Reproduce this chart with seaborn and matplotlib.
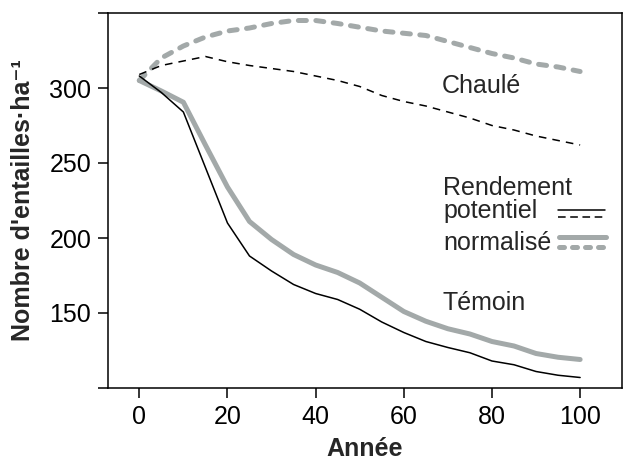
import matplotlib
matplotlib.use("Agg")
import matplotlib.pyplot as plt
import seaborn as sns
import pandas as pd
from matplotlib.lines import Line2D

years = [0, 5, 10, 15, 20, 25, 30, 35, 40, 45, 50, 55, 60, 65, 70, 75, 80, 85, 90, 95, 100]
temoin = [308, 297, 284, 247, 210, 188, 178, 169, 163, 159, 152.5, 144, 137, 131, 127, 123.5, 118, 115.5, 111, 108.5, 107]
temoin_norm = [305, 298, 290.5, 262, 234, 211, 199, 189, 182, 177, 170, 160.5, 151, 144.5, 139.5, 136, 131, 128, 123, 120.5, 119]
chaule = [309, 315, 318, 321, 317.5, 315, 313, 311, 308, 305, 301, 295, 291, 288, 284, 280, 275, 272, 268, 265, 262]
chaule_norm = [305, 320, 328, 334, 338, 340, 343, 345, 345, 343, 340.5, 338, 336.5, 335, 331, 327, 323, 320, 316, 314, 311]

xticks = [0, 20, 40, 60, 80, 100]
yticks = [100, 150, 200, 250, 300, 350]
ytick_labels = ["", "150", "200", "250", "300", ""]

sns.set_theme(style="ticks")
plt.rcParams['font.family'] = ['Liberation Sans', 'DejaVu Sans']

GREY = '#a3a9a9'
GREY_DASH = (0, (1.6, 1.9))
BLACK_DASH = (0, (5, 4))

fig = plt.figure(figsize=(6.24, 4.62), dpi=100)
ax = fig.add_axes([108/624, 1-388/462, (622-108)/624, (388-13)/462])

df = pd.DataFrame({"year": years, "temoin": temoin, "temoin_norm": temoin_norm,
                   "chaule": chaule, "chaule_norm": chaule_norm})

sns.lineplot(data=df, x="year", y="chaule_norm", ax=ax, color=GREY, lw=3.6,
             linestyle=GREY_DASH, dash_capstyle='round')
sns.lineplot(data=df, x="year", y="temoin_norm", ax=ax, color=GREY, lw=3.6,
             solid_capstyle='round')
sns.lineplot(data=df, x="year", y="chaule", ax=ax, color='black', lw=1.1,
             linestyle=BLACK_DASH)
sns.lineplot(data=df, x="year", y="temoin", ax=ax, color='black', lw=1.1)

ax.set_xlim(-7.1, 109.5)
ax.set_ylim(100, 350)
ax.set_xticks(xticks)
ax.set_yticks(yticks)
ax.set_yticklabels(ytick_labels)
for s in ax.spines.values():
    s.set_linewidth(1.1)
    s.set_color('black')
ax.tick_params(axis='both', length=7, width=1.1, direction='out', labelsize=18, pad=5,
               color='black', labelcolor='black')
ax.set_xlabel("Année", fontsize=18, fontweight='bold', labelpad=6)
ax.set_ylabel("Nombre d'entailles·ha⁻¹", fontsize=18, fontweight='bold', labelpad=10)

fs = 18
ax.text(68.5, 296.7, "Chaulé", fontsize=fs, va='baseline', ha='left')
ax.text(68.7, 151.9, "Témoin", fontsize=fs, va='baseline', ha='left')
ax.text(68.9, 213.4, "Rendement\npotentiel", fontsize=fs, va='baseline', ha='left',
        linespacing=0.92)
ax.text(68.9, 192, "normalisé", fontsize=fs, va='baseline', ha='left')

# legend keys
ax.add_line(Line2D([95, 105.6], [218.8, 218.8], color='black', lw=1.1))
ax.add_line(Line2D([95, 105.6], [214, 214], color='black', lw=1.1, linestyle=(0, (5, 3))))
ax.add_line(Line2D([95.3, 105.8], [200.7, 200.7], color=GREY, lw=3.6, solid_capstyle='round'))
ax.add_line(Line2D([95.3, 105.8], [194, 194], color=GREY, lw=3.6,
                   linestyle=(0, (1.0, 1.6)), dash_capstyle='round'))

fig.savefig("out.png", dpi=100)
